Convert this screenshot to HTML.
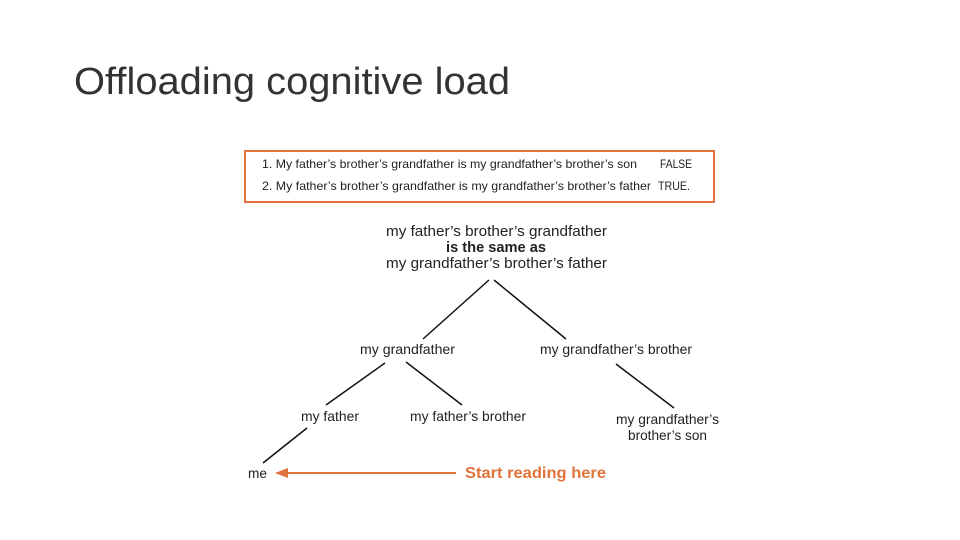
<!DOCTYPE html>
<html><head><meta charset="utf-8"><style>
html,body{margin:0;padding:0;background:#fff;}
svg{display:block;}
text{font-family:"Liberation Sans",sans-serif;fill:#222;}
</style></head><body>
<svg width="960" height="540" viewBox="0 0 960 540" xmlns="http://www.w3.org/2000/svg">
<text x="74" y="94" font-size="38" textLength="436" lengthAdjust="spacingAndGlyphs" style="fill:#333">Offloading cognitive load</text>
<rect x="245" y="151" width="469" height="51" fill="none" stroke="#e0733a" stroke-width="2"/>
<text x="262" y="168" font-size="12" textLength="375" lengthAdjust="spacingAndGlyphs">1. My father’s brother’s grandfather is my grandfather’s brother’s son</text>
<text x="660" y="168" font-size="12" textLength="32" lengthAdjust="spacingAndGlyphs">FALSE</text>
<text x="262" y="190" font-size="12" textLength="389" lengthAdjust="spacingAndGlyphs">2. My father’s brother’s grandfather is my grandfather’s brother’s father</text>
<text x="658" y="190" font-size="12" textLength="32" lengthAdjust="spacingAndGlyphs">TRUE.</text>
<text x="386" y="236" font-size="15" textLength="221" lengthAdjust="spacingAndGlyphs">my father’s brother’s grandfather</text>
<text x="446" y="252" font-size="15" font-weight="bold" textLength="100" lengthAdjust="spacingAndGlyphs">is the same as</text>
<text x="386" y="268" font-size="15" textLength="221" lengthAdjust="spacingAndGlyphs">my grandfather’s brother’s father</text>
<g stroke="#111" stroke-width="1.5">
<line x1="489" y1="280" x2="423" y2="339"/>
<line x1="494" y1="280" x2="566" y2="339"/>
<line x1="385" y1="363" x2="326" y2="405"/>
<line x1="406" y1="362" x2="462" y2="405"/>
<line x1="616" y1="364" x2="674" y2="408"/>
<line x1="307" y1="428" x2="263" y2="463"/>
</g>
<text x="360" y="354" font-size="14" textLength="95" lengthAdjust="spacingAndGlyphs">my grandfather</text>
<text x="540" y="354" font-size="14" textLength="152" lengthAdjust="spacingAndGlyphs">my grandfather’s brother</text>
<text x="301" y="421" font-size="14" textLength="58" lengthAdjust="spacingAndGlyphs">my father</text>
<text x="410" y="421" font-size="14" textLength="116" lengthAdjust="spacingAndGlyphs">my father’s brother</text>
<text x="616" y="424" font-size="14" textLength="103" lengthAdjust="spacingAndGlyphs">my grandfather’s</text>
<text x="628" y="440" font-size="14" textLength="79" lengthAdjust="spacingAndGlyphs">brother’s son</text>
<text x="248" y="478" font-size="14" textLength="19" lengthAdjust="spacingAndGlyphs">me</text>
<line x1="284" y1="473" x2="456" y2="473" stroke="#e0733a" stroke-width="2"/>
<polygon points="275,473 288,468 288,478" fill="#e0733a"/>
<text x="465" y="478" font-size="16" font-weight="bold" textLength="141" lengthAdjust="spacingAndGlyphs" style="fill:#e0733a">Start reading here</text>
</svg>
</body></html>
